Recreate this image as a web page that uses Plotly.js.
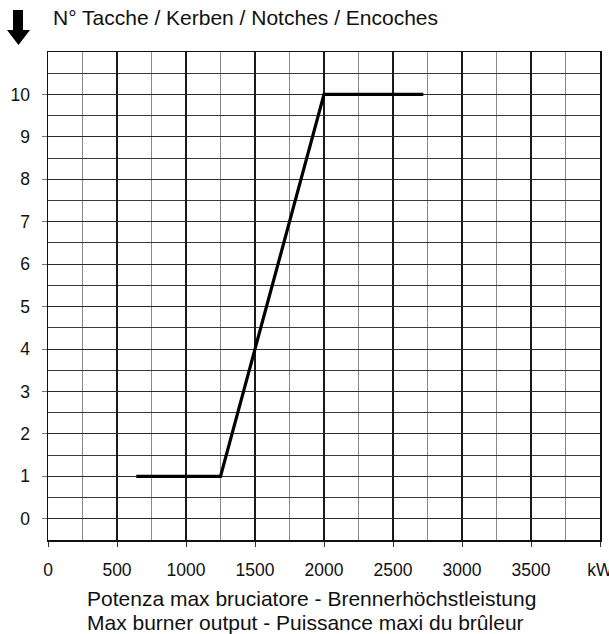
<!DOCTYPE html>
<html>
<head>
<meta charset="utf-8">
<script src="https://cdn.plot.ly/plotly-3.0.1.min.js"></script>
<style>html,body{margin:0;padding:0;background:#fff;}#chart{width:609px;height:634px;}</style>
</head>
<body>
<div id="chart"></div>
<script>
// Data
const powerKW = [640, 1250, 2000, 2720];
const notches = [1, 1, 10, 10];
const xTickVals = [0, 500, 1000, 1500, 2000, 2500, 3000, 3500, 4000];
const xTickText = ['0', '500', '1000', '1500', '2000', '2500', '3000', '3500', 'kW'];
const yTickVals = [0, 1, 2, 3, 4, 5, 6, 7, 8, 9, 10];
const titleText = 'N° Tacche / Kerben / Notches / Encoches';
const xTitle1 = 'Potenza max bruciatore - Brennerhöchstleistung';
const xTitle2 = 'Max burner output - Puissance maxi du brûleur';

const W = 609, H = 634;
const M = {l: 48, r: 9, t: 52, b: 94};
const pw = W - M.l - M.r, ph = H - M.t - M.b;
const px = x => (x - M.l) / pw;
const py = y => 1 - (y - M.t) / ph;

const font = 'Liberation Sans, Arial, sans-serif';

const arrowPts = [[13,10],[23,10],[23,30],[30,30],[18.5,45],[7,30],[13,30]];
const arrowPath = 'M' + arrowPts.map(p => px(p[0]) + ',' + py(p[1])).join(' L') + ' Z';

const trace = {
  x: powerKW, y: notches, type: 'scatter', mode: 'lines',
  line: {color: '#000', width: 3.2}, hoverinfo: 'skip'
};

const layout = {
  width: W, height: H,
  margin: M,
  paper_bgcolor: '#fff', plot_bgcolor: '#fff',
  showlegend: false,
  font: {family: font, size: 16, color: '#111'},
  xaxis: {
    range: [0, 4000], tickvals: xTickVals, ticktext: xTickText,
    showgrid: true, gridcolor: '#1a1a1a', gridwidth: 1.2,
    minor: {dtick: 250, tick0: 0, showgrid: true, gridcolor: '#8a8a8a', gridwidth: 1, ticks: ''},
    showline: true, linecolor: '#111', linewidth: 1.5, mirror: true,
    ticks: 'outside', ticklen: 5, tickcolor: '#333', tickwidth: 1,
    ticklabelstandoff: 8, ticklabeloverflow: 'allow',
    zeroline: false, tickfont: {family: font, size: 17.5, color: '#111'}
  },
  yaxis: {
    range: [-0.5, 11], tickvals: yTickVals,
    showgrid: true, gridcolor: '#2a2a2a', gridwidth: 1,
    minor: {dtick: 0.5, tick0: 0, showgrid: true, gridcolor: '#3a3a3a', gridwidth: 1, ticks: ''},
    showline: true, linecolor: '#111', linewidth: 1.5, mirror: true,
    ticks: 'outside', ticklen: 5, tickcolor: '#777', tickwidth: 1,
    ticklabelstandoff: 8,
    zeroline: false, tickfont: {family: font, size: 17.5, color: '#111'}
  },
  shapes: [
    {type: 'path', xref: 'paper', yref: 'paper', path: arrowPath,
     fillcolor: '#000', line: {color: '#000', width: 0}}
  ],
  annotations: [
    {text: titleText, xref: 'paper', yref: 'paper', x: px(51), y: py(18),
     xanchor: 'left', yanchor: 'middle', showarrow: false,
     font: {family: font, size: 21, color: '#111'}},
    {text: xTitle1, xref: 'paper', yref: 'paper', x: px(85), y: py(598),
     xanchor: 'left', yanchor: 'middle', showarrow: false,
     font: {family: font, size: 21, color: '#111'}},
    {text: xTitle2, xref: 'paper', yref: 'paper', x: px(85), y: py(622),
     xanchor: 'left', yanchor: 'middle', showarrow: false,
     font: {family: font, size: 21, color: '#111'}}
  ]
};

Plotly.newPlot('chart', [trace], layout, {displayModeBar: false, staticPlot: true});
</script>
</body>
</html>
